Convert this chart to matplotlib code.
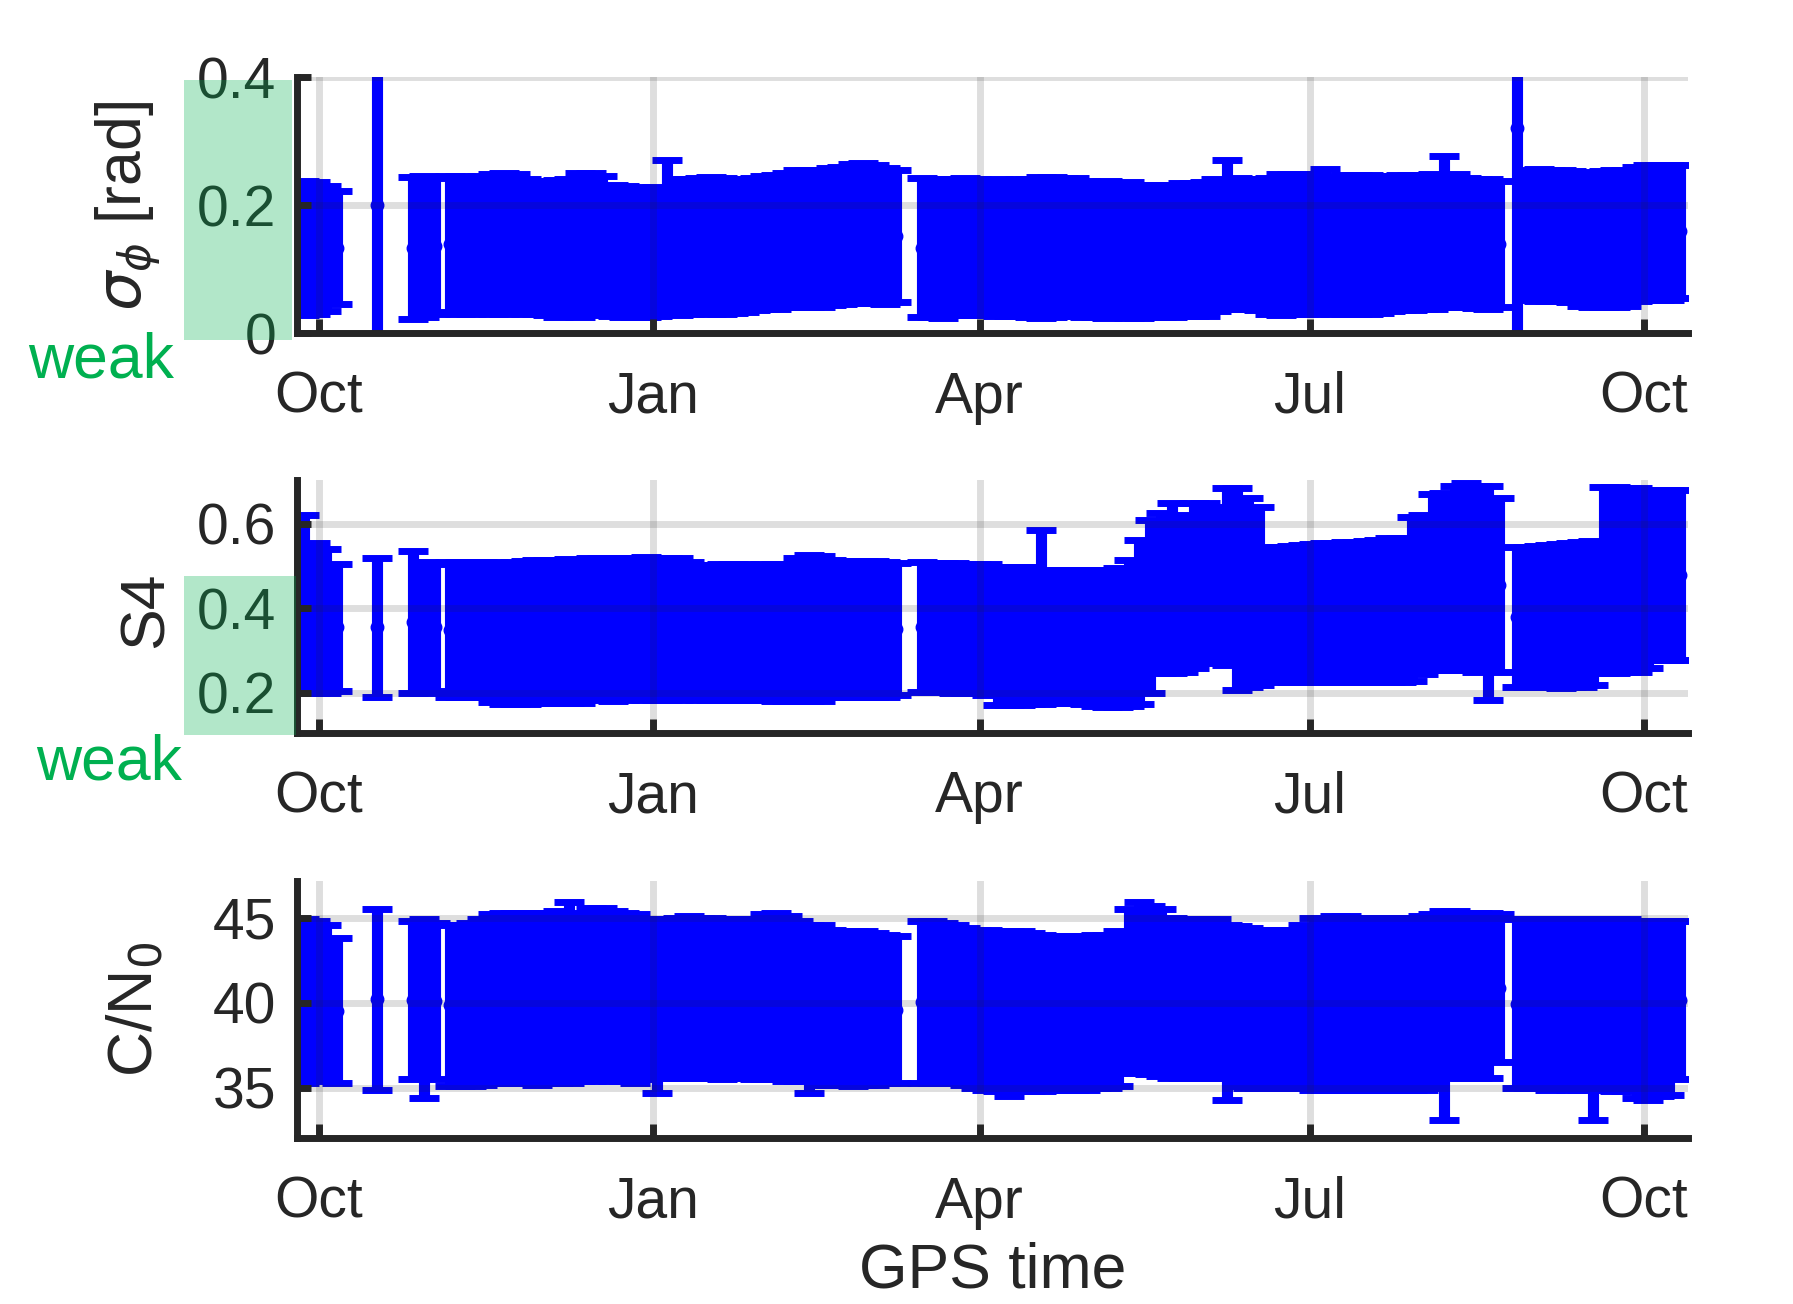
import numpy as np
import matplotlib
matplotlib.use("Agg")
import matplotlib.pyplot as plt
import matplotlib.dates as mdates
from matplotlib.patches import Rectangle

plt.rcParams['font.family'] = ['Liberation Sans', 'DejaVu Sans']
plt.rcParams['mathtext.fontset'] = 'dejavusans'

# =====================================
# data (read off the picture), sampled about every third day
# day offset from 2020-10-01
days = [-4, -1, 2, 5, 16, 26, 29, 32,
        36, 39, 42, 45, 48, 51, 54, 57, 60, 63, 66, 69, 72, 75, 78, 81, 84, 87, 90, 93,
        96, 99, 102, 105, 108, 111, 114, 117, 120, 123, 126, 129, 132, 135, 138, 141,
        144, 147, 150, 153, 156, 159,
        166, 169, 172, 175, 178, 181, 184, 187, 190, 193, 196, 199, 202, 205, 208, 211,
        214, 217, 220, 223, 226, 229, 232, 235, 238, 241, 244, 247, 250, 253, 256, 259,
        262, 265, 268, 271, 274, 277, 280, 283, 286, 289, 292, 295, 298, 301, 304, 307,
        310, 313, 316, 319, 322, 325,
        330, 333, 336, 339, 342, 345, 348, 351, 354, 357, 360, 363, 366, 369, 372, 375]

# sigma_phi [rad] : upper / lower end of each error bar
sig_hi = [0.237, 0.236, 0.230, 0.222, 0.45, 0.244, 0.245, 0.243,
          0.246, 0.245, 0.243, 0.246, 0.248, 0.250, 0.249, 0.240, 0.238, 0.238,
          0.239, 0.240, 0.250, 0.250, 0.245, 0.232, 0.230, 0.228, 0.227, 0.228,
          0.270, 0.240, 0.240, 0.243, 0.244, 0.243, 0.241, 0.241, 0.243, 0.245,
          0.247, 0.250, 0.255, 0.255, 0.255, 0.258, 0.260, 0.264, 0.266, 0.262,
          0.258, 0.255,
          0.242, 0.240, 0.241, 0.241, 0.242, 0.240, 0.239, 0.240, 0.239, 0.240,
          0.241, 0.244, 0.244, 0.243, 0.243, 0.237, 0.236, 0.237, 0.235, 0.236,
          0.231, 0.231, 0.232, 0.232, 0.235, 0.235, 0.236, 0.240, 0.270, 0.242,
          0.241, 0.240, 0.243, 0.248, 0.249, 0.248, 0.248, 0.257, 0.246, 0.247,
          0.247, 0.247, 0.246, 0.246, 0.247, 0.247, 0.247, 0.248, 0.277, 0.248,
          0.242, 0.241, 0.240, 0.238,
          0.66, 0.255, 0.256, 0.254, 0.255, 0.253, 0.250, 0.252, 0.253, 0.254,
          0.255, 0.260, 0.262, 0.262, 0.263, 0.263]
sig_lo = [0.028, 0.030, 0.035, 0.045, -0.05, 0.022, 0.025, 0.030,
          0.033, 0.030, 0.030, 0.032, 0.030, 0.030, 0.031, 0.030, 0.030, 0.028,
          0.025, 0.027, 0.025, 0.028, 0.030, 0.027, 0.025, 0.025, 0.025, 0.026,
          0.030, 0.028, 0.030, 0.032, 0.030, 0.030, 0.032, 0.033, 0.036, 0.038,
          0.038, 0.040, 0.040, 0.041, 0.041, 0.044, 0.046, 0.047, 0.047, 0.047,
          0.045, 0.048,
          0.025, 0.025, 0.024, 0.028, 0.028, 0.028, 0.028, 0.026, 0.026, 0.026,
          0.025, 0.024, 0.025, 0.026, 0.026, 0.025, 0.025, 0.024, 0.025, 0.024,
          0.024, 0.025, 0.025, 0.025, 0.026, 0.026, 0.027, 0.035, 0.038, 0.038,
          0.038, 0.036, 0.030, 0.028, 0.030, 0.030, 0.030, 0.031, 0.030, 0.030,
          0.029, 0.030, 0.032, 0.034, 0.036, 0.036, 0.037, 0.038, 0.040, 0.040,
          0.040, 0.039, 0.037, 0.040,
          -0.02, 0.052, 0.050, 0.050, 0.050, 0.048, 0.042, 0.041, 0.041, 0.040,
          0.042, 0.050, 0.052, 0.052, 0.052, 0.055]

# S4
s4_hi = [0.62, 0.555, 0.54, 0.505, 0.52, 0.535, 0.51, 0.505,
         0.51, 0.51, 0.51, 0.51, 0.51, 0.508, 0.51, 0.512, 0.514, 0.514,
         0.515, 0.516, 0.514, 0.52, 0.52, 0.52, 0.52, 0.52, 0.522, 0.52,
         0.52, 0.518, 0.51, 0.502, 0.502, 0.505, 0.506, 0.505, 0.503, 0.505,
         0.505, 0.506, 0.52, 0.526, 0.525, 0.515, 0.512, 0.512, 0.513, 0.512,
         0.51, 0.508,
         0.51, 0.508, 0.507, 0.507, 0.506, 0.505, 0.505, 0.498, 0.498, 0.497,
         0.498, 0.585, 0.49, 0.49, 0.49, 0.49, 0.49, 0.49, 0.495, 0.514,
         0.562, 0.61, 0.625, 0.65, 0.62, 0.65, 0.65, 0.64, 0.685, 0.685,
         0.66, 0.64, 0.545, 0.545, 0.547, 0.55, 0.553, 0.555, 0.555, 0.556,
         0.558, 0.56, 0.562, 0.567, 0.567, 0.617, 0.62, 0.67, 0.672, 0.69,
         0.697, 0.69, 0.69, 0.66,
         0.545, 0.545, 0.548, 0.55, 0.553, 0.555, 0.558, 0.56, 0.687, 0.687,
         0.685, 0.685, 0.68, 0.68, 0.68, 0.68]
s4_lo = [0.20, 0.20, 0.20, 0.205, 0.19, 0.20, 0.20, 0.205,
         0.19, 0.19, 0.19, 0.19, 0.178, 0.175, 0.175, 0.175, 0.176, 0.176,
         0.177, 0.176, 0.176, 0.184, 0.185, 0.18, 0.184, 0.185, 0.184, 0.184,
         0.183, 0.184, 0.185, 0.184, 0.184, 0.183, 0.184, 0.184, 0.183, 0.184,
         0.18, 0.18, 0.18, 0.18, 0.181, 0.19, 0.19, 0.19, 0.19, 0.19,
         0.19, 0.195,
         0.203, 0.203, 0.203, 0.2, 0.2, 0.2, 0.195, 0.172, 0.172, 0.172,
         0.174, 0.175, 0.176, 0.176, 0.176, 0.175, 0.17, 0.167, 0.168, 0.17,
         0.175, 0.2, 0.247, 0.247, 0.25, 0.26, 0.272, 0.278, 0.265, 0.207,
         0.215, 0.22, 0.23, 0.226, 0.226, 0.226, 0.226, 0.226, 0.226, 0.227,
         0.227, 0.226, 0.226, 0.227, 0.226, 0.228, 0.245, 0.254, 0.255, 0.254,
         0.254, 0.25, 0.184, 0.25,
         0.214, 0.214, 0.214, 0.213, 0.212, 0.214, 0.214, 0.22, 0.247, 0.247,
         0.25, 0.25, 0.26, 0.278, 0.278, 0.278]

# C/N0
cn0_hi = [44.9, 44.8, 44.6, 43.8, 45.5, 44.8, 44.9, 44.7,
          44.6, 44.6, 44.7, 44.9, 45.2, 45.3, 45.3, 45.3, 45.3, 45.3,
          45.4, 45.9, 45.3, 45.6, 45.6, 45.4, 45.3, 45.2, 44.9, 44.9,
          44.9, 45.0, 45.1, 45.0, 45.0, 44.9, 44.9, 44.9, 44.9, 45.2,
          45.3, 45.1, 44.8, 44.6, 44.6, 44.3, 44.2, 44.2, 44.2, 44.1,
          44.0, 43.9,
          44.8, 44.8, 44.7, 44.6, 44.4, 44.3, 44.3, 44.2, 44.2, 44.2,
          44.1, 44.0, 43.9, 43.9, 43.9, 43.9, 44.0, 44.0, 44.2, 45.5,
          45.9, 45.7, 45.5, 45.0, 44.9, 44.9, 44.9, 44.9, 44.6, 44.5,
          44.4, 44.3, 44.3, 44.3, 44.3, 44.6, 45.0, 45.0, 45.1, 45.1,
          45.0, 45.0, 45.0, 45.0, 45.0, 45.0, 45.1, 45.2, 45.4, 45.4,
          45.3, 45.3, 45.3, 45.2,
          44.9, 44.9, 44.9, 44.9, 44.9, 44.9, 44.9, 44.9, 44.9, 44.9,
          44.9, 44.8, 44.8, 44.8, 44.8, 44.8]
cn0_lo = [35.3, 35.4, 35.5, 35.3, 34.9, 35.5, 34.4, 35.5,
          35.1, 35.1, 35.1, 35.2, 35.3, 35.3, 35.3, 35.3, 35.2, 35.3,
          35.3, 35.3, 35.4, 35.4, 35.5, 35.4, 35.4, 35.3, 35.5, 34.7,
          35.6, 35.6, 35.6, 35.6, 35.6, 35.5, 35.6, 35.6, 35.5, 35.5,
          35.5, 35.4, 35.4, 34.7, 35.2, 35.2, 35.2, 35.1, 35.2, 35.2,
          35.3, 35.3,
          35.3, 35.3, 35.3, 35.3, 35.2, 35.0, 34.9, 34.8, 34.5, 34.8,
          34.8, 34.8, 34.9, 34.9, 34.9, 34.9, 35.0, 35.0, 35.1, 35.9,
          35.9, 35.8, 35.7, 35.6, 35.6, 35.6, 35.6, 35.6, 34.3, 35.1,
          35.0, 35.0, 35.0, 35.0, 35.0, 35.0, 34.9, 34.9, 34.9, 34.9,
          34.9, 34.9, 34.9, 34.9, 34.9, 34.9, 34.9, 35.0, 33.1, 35.6,
          35.6, 35.6, 35.6, 36.5,
          35.0, 35.0, 35.0, 34.9, 35.0, 34.9, 34.9, 33.1, 34.9, 34.8,
          34.8, 34.4, 34.3, 34.5, 34.6, 35.5]

base = np.datetime64('2020-10-01')
t = base + np.array(days).astype('timedelta64[D]')

dark = '#262626'
weak_green = '#00b050'

fig = plt.figure(figsize=(17.93, 13.04), dpi=100)

# axes rects in figure fractions
rects = [[0.1656, 0.7446, 0.7758, 0.1963],
         [0.1656, 0.4379, 0.7758, 0.1940],
         [0.1656, 0.1273, 0.7758, 0.1971]]

panels = [
    (sig_lo, sig_hi, (0.0, 0.4), [0, 0.2, 0.4], ['0', '0.2', '0.4'],
     r'$\sigma_{\phi}$ [rad]', (-0.121, 0.496)),
    (s4_lo, s4_hi, (0.1054, 0.7035), [0.2, 0.4, 0.6], ['0.2', '0.4', '0.6'],
     'S4', (-0.1086, 0.488)),
    (cn0_lo, cn0_hi, (32.06, 47.16), [35, 40, 45], ['35', '40', '45'],
     r'C/N$_0$', (-0.1165, 0.50)),
]

for rect, (lo, hi, ylim, yt, ytl, ylab, lab_xy) in zip(rects, panels):
    ax = fig.add_axes(rect)
    lo = np.array(lo)
    hi = np.array(hi)
    mid = (lo + hi) / 2
    ax.errorbar(t, mid, yerr=[mid - lo, hi - mid], fmt='o', color=(0, 0, 1),
                ms=9, elinewidth=8, capsize=11, capthick=5, zorder=2)

    ax.set_xlim(base - np.timedelta64(145, 'h'), base + np.timedelta64(377 * 24 + 2, 'h'))
    ax.set_ylim(*ylim)
    ax.set_yticks(yt)
    ax.set_yticklabels(ytl)
    ax.xaxis.set_major_locator(mdates.MonthLocator(bymonth=[1, 4, 7, 10]))
    ax.xaxis.set_major_formatter(mdates.DateFormatter('%b'))

    for s in ['top', 'right']:
        ax.spines[s].set_visible(False)
    for s in ['left', 'bottom']:
        ax.spines[s].set_linewidth(5)
        ax.spines[s].set_color(dark)

    ax.tick_params(direction='in', length=10, width=5, colors=dark, labelsize=41)
    ax.tick_params(axis='x', pad=27)
    ax.tick_params(axis='y', pad=15)

    ax.set_axisbelow(False)
    ax.grid(True, color=dark, alpha=0.15, lw=5)

    ax.set_ylabel(ylab, fontsize=45, color=dark, va='center')
    ax.yaxis.set_label_coords(*lab_xy)

# green "weak" bands over the tick labels
fig.add_artist(Rectangle((184 / 1793, (1304 - 340) / 1304), 108 / 1793, 260 / 1304,
                         transform=fig.transFigure, facecolor=(0, 0.69, 0.31),
                         alpha=0.3, edgecolor='none', zorder=10))
fig.add_artist(Rectangle((184 / 1793, (1304 - 735) / 1304), 112 / 1793, 159 / 1304,
                         transform=fig.transFigure, facecolor=(0, 0.69, 0.31),
                         alpha=0.3, edgecolor='none', zorder=10))
fig.text(101 / 1793, (1304 - 377) / 1304, 'weak', ha='center', va='baseline',
         color=weak_green, fontsize=45)
fig.text(109 / 1793, (1304 - 780) / 1304, 'weak', ha='center', va='baseline',
         color=weak_green, fontsize=45)

fig.text(993 / 1793, 0.013, 'GPS time', ha='center', va='baseline',
         fontsize=45, color=dark)

fig.savefig('out.png', dpi=100)
